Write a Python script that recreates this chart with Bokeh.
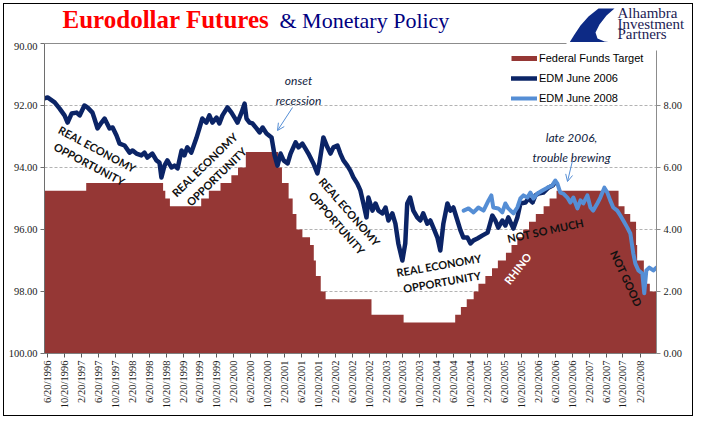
import math
import pandas as pd
from bokeh.plotting import figure
from bokeh.layouts import column
from bokeh.core.properties import value
from bokeh.models import (Range1d, LinearAxis, FixedTicker, NumeralTickFormatter, Label,
                          Arrow, OpenHead, Legend, LegendItem)
from bokeh.embed import file_html
from bokeh.resources import INLINE

# ---------------- data ----------------
ff_dates = ["1996-05-29", "1997-03-25", "1998-09-29", "1998-10-15", "1998-11-17", "1999-06-30",
            "1999-08-24", "1999-11-16", "2000-02-02", "2000-03-21", "2000-05-16", "2001-01-03",
            "2001-01-31", "2001-03-20", "2001-04-18", "2001-05-15", "2001-06-27", "2001-08-21",
            "2001-09-17", "2001-10-02", "2001-11-06", "2001-12-11", "2002-11-06", "2003-06-25",
            "2004-06-30", "2004-08-10", "2004-09-21", "2004-11-10", "2004-12-14", "2005-02-02",
            "2005-03-22", "2005-05-03", "2005-06-30", "2005-08-09", "2005-09-20", "2005-11-01",
            "2005-12-13", "2006-01-31", "2006-03-28", "2006-05-10", "2006-06-29", "2007-09-18",
            "2007-10-31", "2007-12-11", "2008-01-22", "2008-01-30", "2008-03-18", "2008-04-30"]
ff_rates = [5.25, 5.50, 5.25, 5.00, 4.75, 5.00, 5.25, 5.50, 5.75, 6.00, 6.50, 6.00,
            5.50, 5.00, 4.50, 4.00, 3.75, 3.50, 3.00, 2.50, 2.00, 1.75, 1.25, 1.00,
            1.25, 1.50, 1.75, 2.00, 2.25, 2.50, 2.75, 3.00, 3.25, 3.50, 3.75, 4.00,
            4.25, 4.50, 4.75, 5.00, 5.25, 4.75, 4.50, 4.25, 3.50, 3.00, 2.25, 2.00]

edm06_dates = ["1996-05-29", "1996-06-20", "1996-08-10", "1996-09-15", "1996-10-20", "1996-11-11", "1996-12-10",
               "1997-01-15", "1997-02-06", "1997-03-12", "1997-04-03", "1997-05-09", "1997-05-23", "1997-06-14",
               "1997-07-13", "1997-08-04", "1997-09-09", "1997-10-01", "1997-10-29", "1997-11-20", "1997-12-26",
               "1998-01-31", "1998-02-22", "1998-03-21", "1998-04-26", "1998-05-18", "1998-06-08", "1998-07-14",
               "1998-08-12", "1998-09-03", "1998-09-17", "1998-10-09", "1998-10-30", "1998-11-28", "1998-12-20",
               "1999-01-11", "1999-02-09", "1999-03-01", "1999-03-22", "1999-04-20", "1999-05-26", "1999-06-17",
               "1999-07-08", "1999-08-06", "1999-08-28", "1999-09-19", "1999-10-18", "1999-11-08", "1999-11-30",
               "2000-01-05", "2000-02-03", "2000-02-25", "2000-03-17", "2000-04-15", "2000-05-07", "2000-05-21",
               "2000-06-12", "2000-07-03", "2000-08-01", "2000-08-23", "2000-09-14", "2000-10-12", "2000-11-17",
               "2000-12-09", "2000-12-30",
               "2001-01-21", "2001-02-12", "2001-03-13", "2001-04-03", "2001-05-09", "2001-05-30", "2001-06-27",
               "2001-07-19", "2001-08-09", "2001-09-14", "2001-10-13", "2001-10-27", "2001-11-25", "2001-12-24",
               "2002-01-15", "2002-02-05", "2002-03-06", "2002-03-27", "2002-04-18", "2002-05-16", "2002-06-07",
               "2002-06-29", "2002-07-27", "2002-08-18", "2002-09-09", "2002-10-01", "2002-10-15", "2002-11-13",
               "2002-12-05", "2002-12-26",
               "2003-01-24", "2003-02-15", "2003-03-08", "2003-04-05", "2003-04-27", "2003-05-18", "2003-06-16",
               "2003-07-07", "2003-07-21", "2003-08-11", "2003-09-03", "2003-10-01", "2003-10-23", "2003-11-13",
               "2003-12-12",
               "2004-01-03", "2004-01-25", "2004-02-23", "2004-03-15", "2004-04-06", "2004-05-05", "2004-05-26",
               "2004-06-17", "2004-07-16", "2004-08-07", "2004-08-28", "2004-09-26", "2004-10-18", "2004-11-09",
               "2004-12-07",
               "2005-01-13", "2005-02-18", "2005-03-24", "2005-04-15", "2005-05-06", "2005-06-04", "2005-06-26",
               "2005-07-17", "2005-08-23", "2005-09-20", "2005-10-12", "2005-11-17", "2005-12-09",
               "2006-01-07", "2006-01-28", "2006-02-19", "2006-03-26", "2006-05-01", "2006-06-01", "2006-06-19"]
edm06_prices = [91.77, 91.74, 91.90, 92.10, 92.32, 92.55, 92.26,
                92.23, 92.32, 92.00, 92.06, 92.23, 92.42, 92.74, 92.55, 92.42, 92.74, 92.71, 92.97, 93.23, 93.29,
                93.52, 93.45, 93.55, 93.61, 93.52, 93.68, 93.55, 93.77, 93.84, 94.32, 93.94, 93.77, 94.00, 93.94,
                94.03, 93.45, 93.61, 93.35, 93.52, 93.06, 92.74, 92.42, 92.55, 92.32, 92.55, 92.39, 92.58, 92.32,
                92.06, 92.23, 92.39, 92.55, 92.23, 91.94, 92.42, 92.55, 92.58, 92.74, 92.87, 92.71, 92.90, 93.03,
                93.61, 93.94,
                93.55, 93.77, 93.87, 93.55, 93.19, 93.35, 93.23, 93.39, 93.55, 93.87, 94.19, 93.87, 93.03, 93.35,
                93.55, 93.35, 93.29, 93.55, 93.77, 93.94, 94.10, 94.32, 94.52, 94.74, 95.16, 95.61, 94.97, 95.39,
                95.16, 95.39,
                95.48, 95.29, 95.71, 95.48, 95.81, 96.45, 97.00, 96.45, 95.16, 94.97, 95.39, 95.61, 95.71, 95.48,
                95.81,
                95.71, 95.94, 96.26, 96.68, 95.81, 95.16, 95.39, 95.29, 95.71, 96.03, 96.26, 96.26, 96.45, 96.35,
                96.29,
                96.19, 96.10, 95.55, 95.71, 95.94, 95.71, 95.87, 95.61, 95.97, 95.61, 95.16, 95.13, 95.00,
                95.13, 94.90, 94.84, 94.81, 94.65, 94.58, 94.48]

edm08_dates = ["2004-08-30", "2004-10-04", "2004-11-09", "2004-12-14",
               "2005-01-20", "2005-02-25", "2005-03-17", "2005-03-31", "2005-05-06", "2005-06-04", "2005-06-26",
               "2005-07-17", "2005-08-23", "2005-09-20", "2005-10-12", "2005-11-03", "2005-12-02", "2005-12-23",
               "2006-01-14", "2006-02-12", "2006-03-19", "2006-04-24", "2006-05-29", "2006-06-20", "2006-07-05",
               "2006-07-26", "2006-08-17", "2006-09-15", "2006-10-06", "2006-10-28", "2006-11-26", "2006-12-18",
               "2007-01-08", "2007-02-06", "2007-02-28", "2007-03-20", "2007-04-18", "2007-05-10", "2007-06-08",
               "2007-06-29", "2007-07-20", "2007-08-11", "2007-09-09", "2007-10-01", "2007-10-22", "2007-11-20",
               "2007-12-12",
               "2008-01-02", "2008-01-17", "2008-02-08", "2008-03-07", "2008-03-21", "2008-04-05", "2008-04-26",
               "2008-05-25", "2008-06-16"]
edm08_prices = [95.39, 95.32, 95.45, 95.29,
                95.39, 95.06, 94.90, 95.29, 95.32, 95.45, 95.16, 95.32, 95.48, 95.29, 95.00, 94.90, 94.97, 94.81,
                95.00, 94.84, 94.74, 94.65, 94.58, 94.42, 94.52, 94.81, 94.84, 94.97, 95.13, 94.97, 95.32, 95.06,
                95.16, 94.90, 95.29, 95.39, 95.16, 94.97, 94.65, 94.81, 95.06, 95.29, 95.39, 95.55, 95.71, 95.94,
                96.13,
                96.77, 97.10, 97.32, 97.42, 98.06, 97.32, 97.23, 97.32, 97.23]

tick_labels = ["6/20/1996", "10/20/1996", "2/20/1997", "6/20/1997", "10/20/1997", "2/20/1998",
               "6/20/1998", "10/20/1998", "2/20/1999", "6/20/1999", "10/20/1999", "2/20/2000",
               "6/20/2000", "10/20/2000", "2/20/2001", "6/20/2001", "10/20/2001", "2/20/2002",
               "6/20/2002", "10/20/2002", "2/20/2003", "6/20/2003", "10/20/2003", "2/20/2004",
               "6/20/2004", "10/20/2004", "2/20/2005", "6/20/2005", "10/20/2005", "2/20/2006",
               "6/20/2006", "10/20/2006", "2/20/2007", "6/20/2007", "10/20/2007", "2/20/2008"]
left_ticks = [90, 92, 94, 96, 98, 100]
right_ticks = [0, 2, 4, 6, 8]
grid_ticks = [92, 94, 96, 98]

x_start = "1996-05-29"
x_end = "2008-06-17"

# ---------------- helpers ----------------
X0 = pd.Timestamp(x_start)
X1 = pd.Timestamp(x_end)


def ms(ts):
    return pd.Timestamp(ts).value / 1e6


FL, FR, FT, FB = 44, 656, 43, 353  # plot-area edges in page pixels


def xpx(px):
    return ms(X0) + (ms(X1) - ms(X0)) * (px - FL) / (FR - FL)


def ypx(py):
    return 90 + 10.0 * (py - FT) / (FB - FT)


NAVY = "#0b2466"
LBLUE = "#558ED5"
RED_AREA = "#953735"
TOP_PAD = 1.0 / 31.0  # one pixel above the 90.00 line

# ---------------- header (title + logo) ----------------
hdr = figure(width=688, height=38, x_range=Range1d(4, 692), y_range=Range1d(42, 4),
             x_axis_location=None, y_axis_location=None, output_backend="svg",
             toolbar_location=None, min_border=0, title=None)
hdr.frame_align = False
hdr.outline_line_color = None
hdr.grid.visible = False
hdr.text(x=[62], y=[18.5], text=["Eurodollar Futures"], text_font=value("Liberation Serif"),
         text_font_style="bold", text_font_size="25px", text_color="#FF0000",
         text_baseline="middle", text_align="left")
hdr.text(x=[279], y=[19.5], text=["& Monetary Policy"], text_font=value("Liberation Serif"),
         text_font_size="22px", text_color="#000080",
         text_baseline="middle", text_align="left")
logo_x = [598, 614, 606, 599, 595, 597, 604, 612, 569, 574, 580, 588]
logo_y = [8, 8, 15, 24, 32, 38, 41, 42, 42, 34, 25, 16]
hdr.patch(logo_x, logo_y, fill_color="#0d2a85", line_color=None)
hdr.text(x=[617, 617, 617], y=[12.5, 23.5, 33.5], text=["Alhambra", "Investment", "Partners"],
         text_font=value("Liberation Serif"), text_font_size="15px", text_color="#1c1c54",
         text_baseline="middle", text_align="left")

# ---------------- main chart ----------------
p = figure(width=688, height=373, x_axis_type="datetime",
           x_range=Range1d(ms(X0), ms(X1)), y_range=Range1d(100, 90 - TOP_PAD),
           output_backend="svg", toolbar_location=None, title=None,
           min_border_left=40, min_border_right=36, min_border_top=0, min_border_bottom=62)
p.frame_align = False
p.outline_line_color = None
p.background_fill_color = "white"
p.border_fill_color = "white"
p.extra_y_ranges = {"ff": Range1d(0, 10 + TOP_PAD)}

# Fed funds step area
ffd = [ms(d) for d in ff_dates]
step_x, step_y = [], []
for i, r in enumerate(ff_rates):
    end = ffd[i + 1] if i + 1 < len(ffd) else ms(X1)
    step_x += [ffd[i], end]
    step_y += [r, r]
p.varea(x=step_x, y1=0, y2=step_y, y_range_name="ff", fill_color=RED_AREA)

nav = p.line([ms(d) for d in edm06_dates], edm06_prices, line_color=NAVY, line_width=4.5,
             line_join="round", line_cap="round")
lb = p.line([ms(d) for d in edm08_dates], edm08_prices, line_color=LBLUE, line_width=4,
            line_join="round", line_cap="round")
# legend swatch for the area (draws nothing on the chart)
ffleg = p.line(x=[ms(X0), ms(X0)], y=[float("nan"), float("nan")], line_color=RED_AREA,
               line_width=5, line_cap="butt")

# top border of plot area (stops at the logo)
p.segment(x0=[xpx(44)], y0=[90], x1=[xpx(566)], y1=[90], line_color="#8c8c8c", line_width=1)

# ---------------- axes ----------------
xa = p.xaxis[0]
xa.ticker = FixedTicker(ticks=[ms(pd.to_datetime(t, format="%m/%d/%Y")) for t in tick_labels])
xa.major_label_overrides = {ms(pd.to_datetime(t, format="%m/%d/%Y")): t for t in tick_labels}
xa.major_label_orientation = math.pi / 2
xa.axis_line_color = "#7f7f7f"
xa.major_tick_line_color = "#595959"

ya = p.yaxis[0]
ya.ticker = FixedTicker(ticks=left_ticks)
ya.formatter = NumeralTickFormatter(format="0.00")
ya.bounds = (90, 100)
ya.axis_line_color = "#6e6e6e"
ya.major_tick_line_color = "#6e6e6e"

rax = LinearAxis(y_range_name="ff", ticker=FixedTicker(ticks=right_ticks),
                 formatter=NumeralTickFormatter(format="0.00"), bounds=(0, 9.77))
rax.axis_line_color = "#8c8c8c"
rax.major_tick_line_color = "#8c8c8c"
p.add_layout(rax, "right")

for ax in (xa, ya, rax):
    ax.minor_tick_line_color = None
    ax.major_tick_out = 4
    ax.major_tick_in = 0
    ax.major_label_standoff = 3
    ax.major_label_text_font = "Liberation Serif"
    ax.major_label_text_font_size = "10.5px"
    ax.major_label_text_color = "#1a1a1a"

p.xgrid.visible = False
p.ygrid.ticker = FixedTicker(ticks=grid_ticks)
p.ygrid.grid_line_color = "#b3b3b3"
p.ygrid.grid_line_dash = "3 2"

# ---------------- legend ----------------
legend = Legend(items=[LegendItem(label="Federal Funds Target", renderers=[ffleg]),
                       LegendItem(label="EDM June 2006", renderers=[nav]),
                       LegendItem(label="EDM June 2008", renderers=[lb])],
                location=(511 - FL, FB - 108), padding=0, margin=0, spacing=0,
                glyph_width=26, glyph_height=20, label_height=20, label_standoff=2,
                border_line_color=None, background_fill_alpha=0,
                label_text_font="Liberation Sans", label_text_font_size="11px",
                label_text_color="#000000")
p.add_layout(legend)

# ---------------- annotations ----------------
def note(text, cx, cy, deg, color="#111111", style="bold", size="11px"):
    p.add_layout(Label(x=xpx(cx), y=ypx(cy), text=text, angle=math.radians(deg),
                       text_font="Lato", text_font_style=style, text_font_size=size,
                       text_color=color, text_align="center", text_baseline="middle",
                       text_line_height=1.3))


note("REAL ECONOMY\nOPPORTUNITY", 93, 156, -28)
note("REAL ECONOMY\nOPPORTUNITY", 210, 170, 44)
note("REAL ECONOMY\nOPPORTUNITY", 343, 217, -49)
note("REAL ECONOMY\nOPPORTUNITY", 440, 273, 10)
note("NOT SO MUCH", 545, 230, 12)
note("RHINO", 517, 268, 52, color="#ffffff")
note("NOT GOOD", 626, 278, -65)
note("onset\nrecession", 298, 90, 0, color="#10223e", style="italic", size="12px")
note("late 2006,\ntrouble brewing", 571, 147, 0, color="#10223e", style="italic", size="12px")

for (x0, y0, x1, y1) in ((292, 107, 277, 130), (572, 160, 567, 181)):
    p.add_layout(Arrow(end=OpenHead(size=7, line_color=LBLUE, line_width=1),
                       x_start=xpx(x0), y_start=ypx(y0), x_end=xpx(x1), y_end=ypx(y1),
                       line_color=LBLUE, line_width=1))

lay = column(hdr, p, spacing=0)
lay.margin = (4, 0, 0, 4)
lay.styles = {"outline": "1px solid #000000"}

open("out.html", "w").write(file_html(lay, INLINE))
